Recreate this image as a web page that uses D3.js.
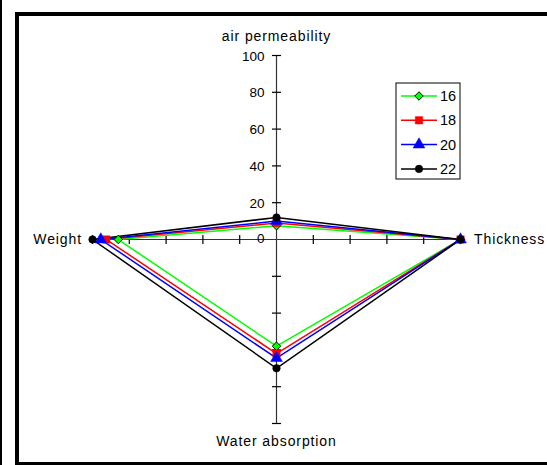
<!DOCTYPE html>
<html><head><meta charset="utf-8">
<script src="https://cdn.jsdelivr.net/npm/d3@7"></script>
<style>
html,body{margin:0;padding:0;background:#fff;}
svg{display:block;}
text{font-family:"Liberation Sans",Arial,sans-serif;fill:#000;}
</style></head>
<body>
<svg id="c" width="547" height="465"></svg>
<script>
const categories = ["air permeability", "Thickness", "Water absorption", "Weight"];
const seriesNames = ["16", "18", "20", "22"];
const s16 = [7.5, 100, 58, 86];
const s18 = [9, 100, 62, 92.5];
const s20 = [10, 100, 64.5, 95.5];
const s22 = [12, 100, 70, 100];
const tickValues = [0, 20, 40, 60, 80, 100];
const tickLabels = ["0", "20", "40", "60", "80", "100"];

const seriesData = [s16, s18, s20, s22];
const colors = ["#00FF00", "#FF0000", "#0000FF", "#000000"];
const markers = [d3.symbolSquare, d3.symbolSquare, d3.symbolTriangle, d3.symbolCircle];
const markerSizes = [36, 55, 60, 45];
const markerRot = [45, 0, 0, 0];

const svg = d3.select("#c");
svg.append("rect").attr("x", 0).attr("y", 0).attr("width", 2).attr("height", 465).attr("fill", "#000");
svg.append("rect").attr("x", 17).attr("y", 14).attr("width", 560).attr("height", 450)
  .attr("fill", "none").attr("stroke", "#000").attr("stroke-width", 4);

const cx = 276.5, cy = 239.5, R = 184;
const r = d3.scaleLinear().domain([0, 100]).range([0, R]);
const angle = i => i * Math.PI / 2;
const px = (i, v) => cx + r(v) * Math.sin(angle(i));
const py = (i, v) => cy - r(v) * Math.cos(angle(i));

const g = svg.append("g");
categories.forEach((c, i) => {
  g.append("line").attr("x1", cx).attr("y1", cy).attr("x2", px(i, 100)).attr("y2", py(i, 100))
    .attr("stroke", "#333").attr("stroke-width", 1.2);
  tickValues.filter(t => t > 0).forEach(t => {
    const x = px(i, t), y = py(i, t);
    const vx = Math.cos(angle(i)), vy = Math.sin(angle(i));
    g.append("line").attr("x1", x - 4.5 * vx).attr("y1", y - 4.5 * vy)
      .attr("x2", x + 4.5 * vx).attr("y2", y + 4.5 * vy)
      .attr("stroke", "#000").attr("stroke-width", 1.2);
  });
});
tickValues.forEach((t, k) => {
  g.append("text").attr("x", cx - 12).attr("y", py(0, t) + 5 - (t === 0 ? 2 : 0))
    .attr("text-anchor", "end").attr("font-size", 13.5).text(tickLabels[k]);
});
const lab = [
  {x: cx, y: 41, a: "middle"},
  {x: 474, y: 243.5, a: "start"},
  {x: cx, y: 445.5, a: "middle"},
  {x: 82, y: 243.5, a: "end"}
];
categories.forEach((c, i) => {
  g.append("text").attr("x", lab[i].x).attr("y", lab[i].y).attr("text-anchor", lab[i].a)
    .attr("font-size", 14).attr("letter-spacing", 0.9).text(c);
});

const line = d3.line().x(d => d[0]).y(d => d[1]).curve(d3.curveLinearClosed);
seriesData.forEach((s, k) => {
  const pts = s.map((v, i) => [px(i, v), py(i, v)]);
  g.append("path").attr("d", line(pts)).attr("fill", "none").attr("stroke", colors[k]).attr("stroke-width", 1.5);
});
function marker(sel, k, x, y) {
  sel.append("path").attr("d", d3.symbol().type(markers[k]).size(markerSizes[k])())
    .attr("transform", `translate(${x},${y}) rotate(${markerRot[k]})`)
    .attr("fill", colors[k]).attr("stroke", k === 0 ? "#000" : colors[k]).attr("stroke-width", k === 0 ? 0.9 : 0.5);
}
seriesData.forEach((s, k) => {
  s.forEach((v, i) => marker(g, k, px(i, v), py(i, v)));
});

const lg = svg.append("g");
lg.append("rect").attr("x", 396).attr("y", 83).attr("width", 64).attr("height", 96)
  .attr("fill", "#fff").attr("stroke", "#000").attr("stroke-width", 1);
seriesNames.forEach((n, k) => {
  const y = 96 + k * 24.3;
  lg.append("line").attr("x1", 401).attr("x2", 437).attr("y1", y).attr("y2", y)
    .attr("stroke", colors[k]).attr("stroke-width", 1.5);
  marker(lg, k, 419, y);
  lg.append("text").attr("x", 440).attr("y", y + 5).attr("font-size", 14.5).text(n);
});
</script>
</body></html>
